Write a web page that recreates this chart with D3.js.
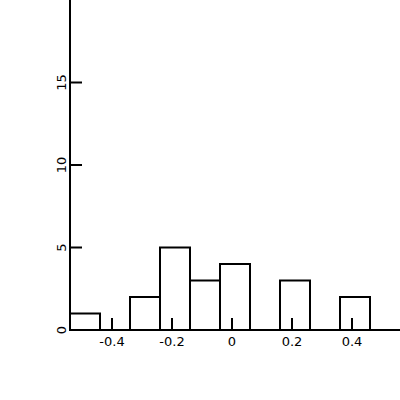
<!DOCTYPE html>
<html>
<head>
<meta charset="utf-8">
<script src="https://cdn.jsdelivr.net/npm/d3@7"></script>
<style>
  body { margin: 0; background: #fff; }
  text { font-family: "DejaVu Sans", sans-serif; font-size: 13px; fill: #000; }
</style>
</head>
<body>
<div class="chart"></div>
<script>
// histogram bins (left edges, width 0.1) and counts
let binEdges = [-0.54, -0.44, -0.34, -0.24, -0.14, -0.04, 0.06, 0.16, 0.26, 0.36, 0.46, 0.56];
let counts = [1, 0, 2, 5, 3, 4, 0, 3, 0, 2, 0];
let xTicks = [-0.4, -0.2, 0, 0.2, 0.4];
let yTicks = [0, 5, 10, 15];

let w = 400;
let h = 400;
let left = 70;
let bottom = 330;

let svg = d3.select('.chart')
    .append('svg')
    .attr('width', w)
    .attr('height', h);

let x = d3.scaleLinear().domain([-0.54, 0.56]).range([left, w]);
let y = d3.scaleLinear().domain([0, 20]).range([bottom, 0]);

let fmt = function(d) { return d === 0 ? '0' : d3.format('.1f')(d).replace('−', '-'); };

// bars
let bins = counts.map(function(c, i) { return {x0: binEdges[i], x1: binEdges[i + 1], n: c}; })
    .filter(function(d) { return d.n > 0; });

svg.selectAll('.bar')
    .data(bins)
    .enter()
    .append('rect')
    .attr('x', function(d) { return x(d.x0); })
    .attr('y', function(d) { return y(d.n); })
    .attr('width', function(d) { return x(d.x1) - x(d.x0); })
    .attr('height', function(d) { return y(0) - y(d.n); })
    .attr('fill', 'none')
    .attr('stroke', '#000')
    .attr('stroke-width', 2);

// x axis
let gx = svg.append('g').attr('transform', 'translate(0,' + bottom + ')');
gx.append('line').attr('x1', left).attr('x2', w).attr('stroke', '#000').attr('stroke-width', 2);
gx.selectAll('.xt').data(xTicks).enter().append('line')
    .attr('x1', x).attr('x2', x).attr('y1', 0).attr('y2', -12)
    .attr('stroke', '#000').attr('stroke-width', 2);
gx.selectAll('.xl').data(xTicks).enter().append('text')
    .attr('x', x).attr('y', 16)
    .attr('text-anchor', 'middle')
    .text(fmt);

// y axis
let gy = svg.append('g').attr('transform', 'translate(' + left + ',0)');
gy.append('line').attr('y1', 0).attr('y2', bottom + 1).attr('stroke', '#000').attr('stroke-width', 2);
gy.selectAll('.yt').data(yTicks).enter().append('line')
    .attr('y1', y).attr('y2', y).attr('x1', 0).attr('x2', 12)
    .attr('stroke', '#000').attr('stroke-width', 2);
gy.selectAll('.yl').data(yTicks).enter().append('text')
    .attr('transform', function(d) { return 'translate(-4,' + y(d) + ') rotate(-90)'; })
    .attr('text-anchor', 'middle')
    .text(function(d) { return d; });
</script>
</body>
</html>
